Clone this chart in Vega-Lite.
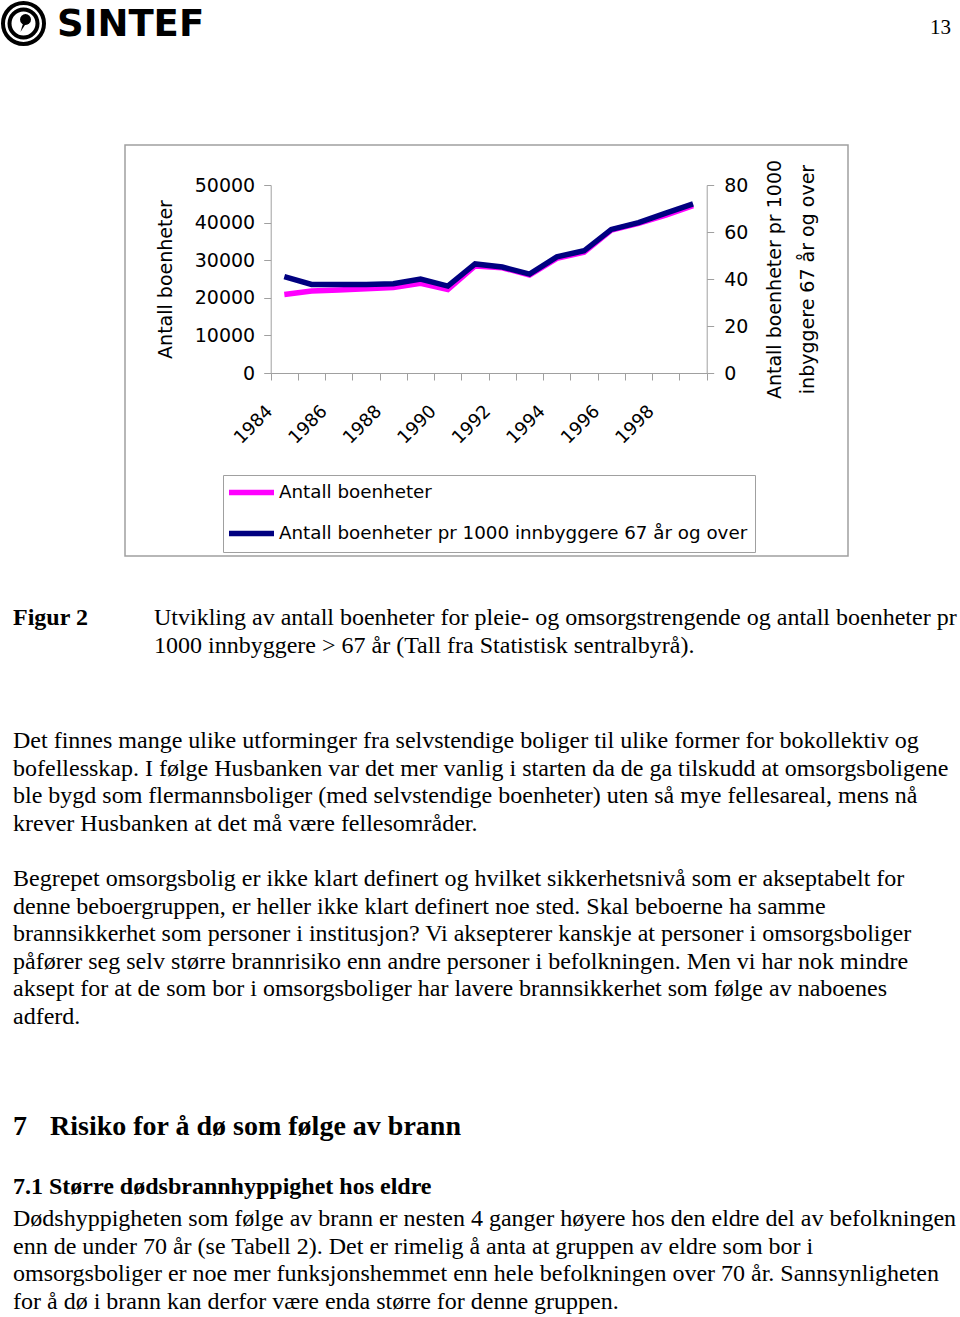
{
  "$schema": "https://vega.github.io/schema/vega-lite/v6.json",
  "padding": {"left": -5, "top": -5, "right": 0, "bottom": 0},
  "spacing": 0,
  "config": {
    "view": {"stroke": null},
    "axis": {"labelColor": "black", "titleColor": "black", "domainColor": "#a0a0a0", "tickColor": "#a0a0a0", "grid": false, "labelFont": "DejaVu Sans", "titleFont": "DejaVu Sans", "titleFontWeight": "normal"},
    "legend": {"labelColor": "black", "labelFont": "DejaVu Sans"}
  },
  "vconcat": [
    {
      "width": 960,
      "height": 143,
      "data": {"values": [{"logo": "SINTEF", "page": "13"}]},
      "layer": [
        {"mark": {"type": "point", "shape": "circle", "filled": false, "stroke": "black", "strokeWidth": 4, "size": 1681, "opacity": 1}, "encoding": {"x": {"value": 22.5}, "y": {"value": 22.5}}},
        {"mark": {"type": "point", "shape": "circle", "filled": false, "stroke": "black", "strokeWidth": 4, "size": 784, "opacity": 1}, "encoding": {"x": {"value": 22.5}, "y": {"value": 22.5}}},
        {"mark": {"type": "point", "shape": "circle", "filled": true, "color": "black", "size": 120, "opacity": 1}, "encoding": {"x": {"value": 24.5}, "y": {"value": 18.5}}},
        {"mark": {"type": "point", "shape": "wedge", "filled": true, "color": "black", "size": 110, "angle": 205, "opacity": 1}, "encoding": {"x": {"value": 22}, "y": {"value": 25.5}}},
        {"mark": {"type": "text", "font": "DejaVu Sans", "fontWeight": "bold", "fontSize": 37, "align": "left", "baseline": "alphabetic"}, "encoding": {"x": {"value": 56}, "y": {"value": 35}, "text": {"field": "logo"}}},
        {"mark": {"type": "text", "font": "Liberation Serif", "fontSize": 21, "align": "right", "baseline": "alphabetic"}, "encoding": {"x": {"value": 950}, "y": {"value": 33}, "text": {"field": "page"}}}
      ]
    },
    {
      "spacing": 0,
      "bounds": "flush",
      "hconcat": [
        {"width": 124, "height": 411, "data": {"values": []}, "mark": "text"},
        {
          "width": 723,
          "height": 411,
          "view": {"stroke": "#a0a0a0", "strokeWidth": 1.5},
          "data": {"values": [
            {"year": 1984, "boenheter": 20900, "per1000": 41.0},
            {"year": 1985, "boenheter": 21800, "per1000": 37.7},
            {"year": 1986, "boenheter": 22050, "per1000": 37.7},
            {"year": 1987, "boenheter": 22400, "per1000": 37.7},
            {"year": 1988, "boenheter": 22750, "per1000": 38.0},
            {"year": 1989, "boenheter": 23850, "per1000": 40.0},
            {"year": 1990, "boenheter": 22200, "per1000": 37.0},
            {"year": 1991, "boenheter": 28450, "per1000": 46.4},
            {"year": 1992, "boenheter": 28000, "per1000": 45.1},
            {"year": 1993, "boenheter": 26050, "per1000": 42.1},
            {"year": 1994, "boenheter": 30500, "per1000": 49.4},
            {"year": 1995, "boenheter": 32100, "per1000": 52.0},
            {"year": 1996, "boenheter": 38000, "per1000": 61.1},
            {"year": 1997, "boenheter": 39800, "per1000": 64.0},
            {"year": 1998, "boenheter": 42000, "per1000": 68.0},
            {"year": 1999, "boenheter": 44500, "per1000": 72.0}
          ]},
          "layer": [
            {
              "mark": {"type": "line", "strokeWidth": 5.5},
              "encoding": {
                "x": {
                  "field": "year", "type": "ordinal",
                  "scale": {"type": "band", "range": [145.7, 581.7], "paddingInner": 0, "paddingOuter": 0},
                  "axis": {"orient": "bottom", "offset": -183, "tickBand": "extent", "tickSize": 7, "labelAngle": -45, "labelExpr": "datum.value % 2 == 0 ? datum.label : ''", "labelOverlap": false, "labelFontSize": 18, "labelPadding": 22, "labelOffset": -21, "title": null}
                },
                "y": {
                  "field": "boenheter", "type": "quantitative",
                  "scale": {"domain": [0, 50000], "range": [228, 40]},
                  "axis": {"orient": "left", "offset": -145.7, "values": [0, 10000, 20000, 30000, 40000, 50000], "format": "d", "tickSize": 7, "labelPadding": 9, "labelFontSize": 19, "title": "Antall boenheter", "titleFontSize": 19, "titlePadding": 19}
                },
                "color": {
                  "datum": "Antall boenheter", "type": "nominal",
                  "scale": {"domain": ["Antall boenheter", "Antall boenheter pr 1000 innbyggere 67 år og over"], "range": ["#ff00ff", "#000080"]},
                  "legend": {"orient": "none", "legendX": 222, "legendY": 474, "title": null, "strokeColor": "#a0a0a0", "padding": 7, "symbolType": "M-1.533,0H4.467", "symbolSize": 225, "symbolStrokeWidth": 5.5, "labelOffset": 28, "labelFontSize": 18.3, "labelLimit": 0, "rowPadding": 18, "direction": "vertical"}
                }
              }
            },
            {
              "mark": {"type": "line", "strokeWidth": 5.5},
              "encoding": {
                "x": {"field": "year", "type": "ordinal"},
                "y": {
                  "field": "per1000", "type": "quantitative",
                  "scale": {"domain": [0, 80], "range": [228, 40]},
                  "axis": {"orient": "right", "offset": -141.3, "values": [0, 20, 40, 60, 80], "tickSize": 7, "labelPadding": 10, "labelFontSize": 19, "title": ["Antall boenheter pr 1000", "inbyggere 67 år og over"], "titleFontSize": 19, "titleAngle": 270, "titleLineHeight": 33, "titlePadding": 4}
                },
                "color": {"datum": "Antall boenheter pr 1000 innbyggere 67 år og over", "type": "nominal"}
              }
            }
          ],
          "resolve": {"scale": {"y": "independent"}, "axis": {"y": "independent"}}
        }
      ]
    },
    {
      "width": 960,
      "height": 144,
      "layer": [
        {
          "data": {"values": [{"line": 1, "text": "Figur 2"}]},
          "mark": {"type": "text", "align": "left", "baseline": "middle", "font": "Liberation Serif", "fontSize": 24, "fontWeight": "bold"},
          "encoding": {"x": {"value": 12}, "y": {"field": "line", "type": "ordinal", "scale": {"type": "point", "range": [61, 89], "padding": 0}, "axis": null}, "text": {"field": "text"}}
        },
        {
          "data": {"values": [
            {"line": 1, "text": "Utvikling av antall boenheter for pleie- og omsorgstrengende og antall boenheter pr"},
            {"line": 2, "text": "1000 innbyggere > 67 år (Tall fra Statistisk sentralbyrå)."}
          ]},
          "mark": {"type": "text", "align": "left", "baseline": "middle", "font": "Liberation Serif", "fontSize": 24},
          "encoding": {"x": {"value": 153}, "y": {"field": "line", "type": "ordinal", "axis": null}, "text": {"field": "text"}}
        }
      ]
    },
    {
      "width": 960,
      "height": 150,
      "data": {"values": [
        {"line": 1, "text": "Det finnes mange ulike utforminger fra selvstendige boliger til ulike former for bokollektiv og"},
        {"line": 2, "text": "bofellesskap. I følge Husbanken var det mer vanlig i starten da de ga tilskudd at omsorgsboligene"},
        {"line": 3, "text": "ble bygd som flermannsboliger (med selvstendige boenheter) uten så mye fellesareal, mens nå"},
        {"line": 4, "text": "krever Husbanken at det må være fellesområder."}
      ]},
      "mark": {"type": "text", "align": "left", "baseline": "middle", "font": "Liberation Serif", "fontSize": 24},
      "encoding": {"x": {"value": 12}, "y": {"field": "line", "type": "ordinal", "scale": {"type": "point", "range": [40, 123], "padding": 0}, "axis": null}, "text": {"field": "text"}}
    },
    {
      "width": 960,
      "height": 200,
      "data": {"values": [
        {"line": 1, "text": "Begrepet omsorgsbolig er ikke klart definert og hvilket sikkerhetsnivå som er akseptabelt for"},
        {"line": 2, "text": "denne beboergruppen, er heller ikke klart definert noe sted. Skal beboerne ha samme"},
        {"line": 3, "text": "brannsikkerhet som personer i institusjon? Vi aksepterer kanskje at personer i omsorgsboliger"},
        {"line": 4, "text": "påfører seg selv større brannrisiko enn andre personer i befolkningen. Men vi har nok mindre"},
        {"line": 5, "text": "aksept for at de som bor i omsorgsboliger har lavere brannsikkerhet som følge av naboenes"},
        {"line": 6, "text": "adferd."}
      ]},
      "mark": {"type": "text", "align": "left", "baseline": "middle", "font": "Liberation Serif", "fontSize": 24},
      "encoding": {"x": {"value": 12}, "y": {"field": "line", "type": "ordinal", "scale": {"type": "point", "range": [28, 166], "padding": 0}, "axis": null}, "text": {"field": "text"}}
    },
    {
      "width": 960,
      "height": 150,
      "layer": [
        {
          "data": {"values": [{"line": 1, "text": "7"}]},
          "mark": {"type": "text", "align": "left", "baseline": "middle", "font": "Liberation Serif", "fontSize": 28, "fontWeight": "bold"},
          "encoding": {"x": {"value": 12}, "y": {"field": "line", "type": "ordinal", "scale": {"type": "point", "range": [76, 136], "padding": 0}, "axis": null}, "text": {"field": "text"}}
        },
        {
          "data": {"values": [{"line": 1, "text": "Risiko for å dø som følge av brann"}]},
          "mark": {"type": "text", "align": "left", "baseline": "middle", "font": "Liberation Serif", "fontSize": 28, "fontWeight": "bold"},
          "encoding": {"x": {"value": 49}, "y": {"field": "line", "type": "ordinal", "axis": null}, "text": {"field": "text"}}
        },
        {
          "data": {"values": [{"line": 2, "text": "7.1 Større dødsbrannhyppighet hos eldre"}]},
          "mark": {"type": "text", "align": "left", "baseline": "middle", "font": "Liberation Serif", "fontSize": 24, "fontWeight": "bold"},
          "encoding": {"x": {"value": 12}, "y": {"field": "line", "type": "ordinal", "axis": null}, "text": {"field": "text"}}
        }
      ]
    },
    {
      "width": 960,
      "height": 117,
      "data": {"values": [
        {"line": 1, "text": "Dødshyppigheten som følge av brann er nesten 4 ganger høyere hos den eldre del av befolkningen"},
        {"line": 2, "text": "enn de under 70 år (se Tabell 2). Det er rimelig å anta at gruppen av eldre som bor i"},
        {"line": 3, "text": "omsorgsboliger er noe mer funksjonshemmet enn hele befolkningen over 70 år. Sannsynligheten"},
        {"line": 4, "text": "for å dø i brann kan derfor være enda større for denne gruppen."}
      ]},
      "mark": {"type": "text", "align": "left", "baseline": "middle", "font": "Liberation Serif", "fontSize": 24},
      "encoding": {"x": {"value": 12}, "y": {"field": "line", "type": "ordinal", "scale": {"type": "point", "range": [18, 101], "padding": 0}, "axis": null}, "text": {"field": "text"}}
    }
  ]
}
